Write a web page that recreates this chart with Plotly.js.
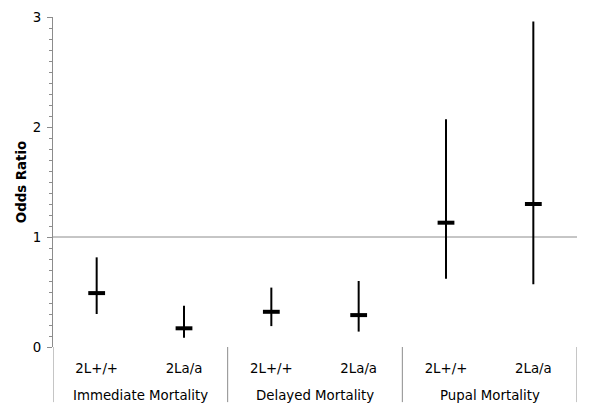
<!DOCTYPE html>
<html>
<head>
<meta charset="utf-8">
<script src="https://cdn.plot.ly/plotly-3.0.1.min.js"></script>
<style>html,body{margin:0;padding:0;background:#fff;}#chart{width:600px;height:419px;}</style>
</head>
<body>
<div id="chart"></div>
<script>
// Data
const groups = ["Immediate Mortality", "Immediate Mortality", "Delayed Mortality", "Delayed Mortality", "Pupal Mortality", "Pupal Mortality"];
const genotypes = ["2L+/+", "2La/a", "2L+/+", "2La/a", "2L+/+", "2La/a"];
const oddsRatio = [0.49, 0.17, 0.32, 0.29, 1.13, 1.30];
const ciLower = [0.30, 0.085, 0.19, 0.14, 0.62, 0.57];
const ciUpper = [0.815, 0.375, 0.54, 0.60, 2.07, 2.96];
const referenceLine = 1;
const yTicks = [0, 1, 2, 3];

const xPos = genotypes.map((_, i) => i);
const errPlus = oddsRatio.map((v, i) => ciUpper[i] - v);
const errMinus = oddsRatio.map((v, i) => v - ciLower[i]);

// group spans derived from the groups array
const groupNames = [];
const groupStart = {}, groupEnd = {};
groups.forEach((g, i) => {
  if (!(g in groupStart)) { groupNames.push(g); groupStart[g] = i; }
  groupEnd[g] = i;
});
const boundaries = [-0.5].concat(groupNames.map(g => groupEnd[g] + 0.5));

const FONT = "DejaVu Sans, Verdana, sans-serif";
const GREY = "#8c8c8c";

const trace = {
  type: "scatter",
  mode: "markers",
  x: xPos,
  y: oddsRatio,
  marker: {symbol: "line-ew", size: 12, color: "#000", line: {width: 4, color: "#000"}},
  error_y: {type: "data", symmetric: false, array: errPlus, arrayminus: errMinus, width: 0, thickness: 2, color: "#000"},
  showlegend: false,
  hoverinfo: "skip",
  cliponaxis: false
};

const dividerBottom = -0.167;
const shapes = [{
  type: "line", xref: "paper", yref: "y", x0: 0, x1: 1, y0: referenceLine, y1: referenceLine,
  line: {color: GREY, width: 1}, layer: "below"
}].concat(boundaries.map(b => ({
  type: "line", xref: "x", yref: "paper", x0: b, x1: b, y0: 0, y1: dividerBottom,
  line: {color: GREY, width: 1}
})));

const annotations = groupNames.map(g => ({
  xref: "x", yref: "paper", x: (groupStart[g] + groupEnd[g]) / 2, y: -0.147,
  xanchor: "center", yanchor: "middle", showarrow: false, text: g,
  font: {family: FONT, size: 13.33, color: "#000"}
}));

const layout = {
  width: 600, height: 419,
  margin: {l: 53, r: 23, t: 17, b: 72, pad: 0},
  paper_bgcolor: "#fff", plot_bgcolor: "#fff",
  font: {family: FONT, size: 13.33, color: "#000"},
  showlegend: false,
  xaxis: {
    range: [-0.5, genotypes.length - 0.5],
    tickvals: xPos, ticktext: genotypes,
    showgrid: false, zeroline: false, showline: false,
    ticks: "", ticklen: 0,
    tickfont: {family: FONT, size: 13.33, color: "#000"},
    ticklabelstandoff: 12
  },
  yaxis: {
    range: [0, 3],
    tickvals: yTicks, ticktext: yTicks.map(String),
    showgrid: false, zeroline: false,
    showline: true, linecolor: GREY, linewidth: 1,
    ticks: "outside", ticklen: 5, tickcolor: GREY, tickwidth: 1,
    minor: {dtick: 0.1, ticks: "outside", ticklen: 3, tickcolor: GREY, tickwidth: 1, showgrid: false},
    tickfont: {family: FONT, size: 13.33, color: "#000"},
    ticklabelstandoff: 3,
    title: {text: "<b>Odds Ratio</b>", font: {family: FONT, size: 13.33, color: "#000"}, standoff: 3}
  },
  shapes: shapes,
  annotations: annotations
};

Plotly.newPlot("chart", [trace], layout, {staticPlot: true, displayModeBar: false});
</script>
</body>
</html>
